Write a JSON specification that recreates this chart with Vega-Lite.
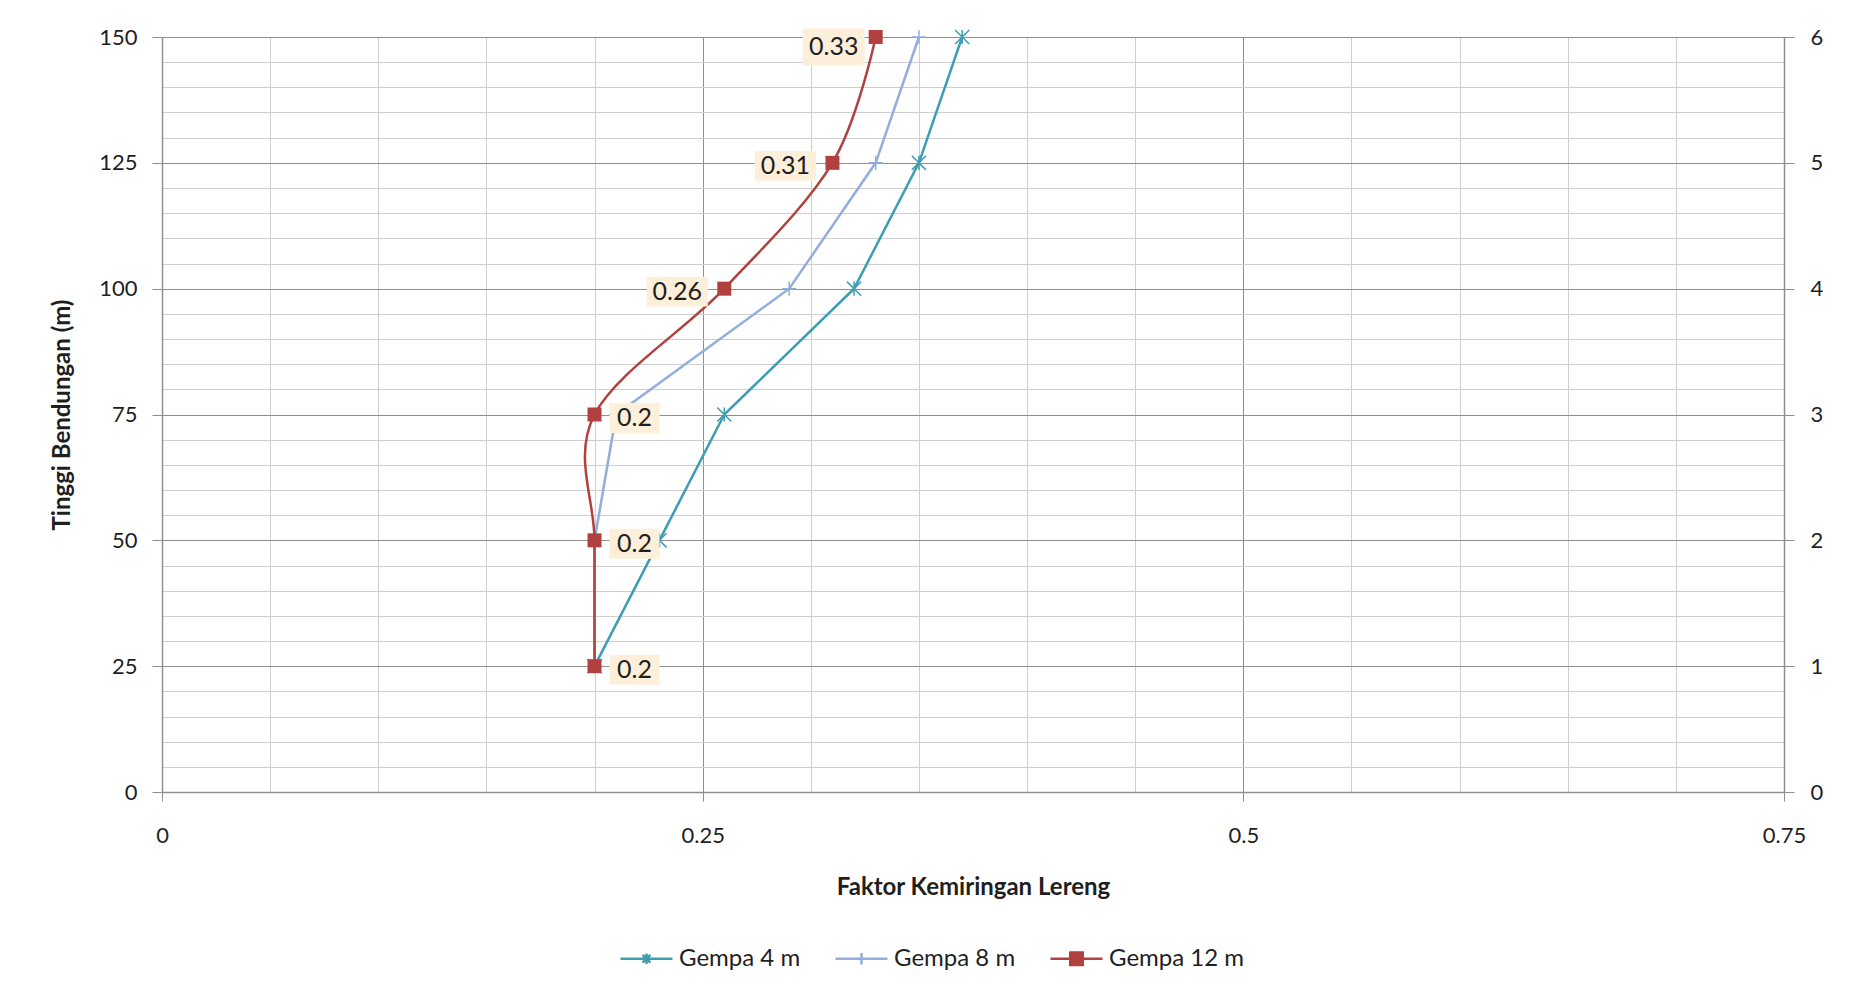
{
  "$schema": "https://vega.github.io/schema/vega-lite/v6.json",
  "width": 1622,
  "height": 755,
  "autosize": {"type": "none"},
  "padding": {"left": 162, "top": 37, "right": 67, "bottom": 205},
  "background": "white",
  "datasets": {
    "series": [
      {"s": "Gempa 4 m", "h": 25, "x": 0.2},
      {"s": "Gempa 4 m", "h": 50, "x": 0.23},
      {"s": "Gempa 4 m", "h": 75, "x": 0.26},
      {"s": "Gempa 4 m", "h": 100, "x": 0.32},
      {"s": "Gempa 4 m", "h": 125, "x": 0.35},
      {"s": "Gempa 4 m", "h": 150, "x": 0.37},
      {"s": "Gempa 8 m", "h": 25, "x": 0.2},
      {"s": "Gempa 8 m", "h": 50, "x": 0.2},
      {"s": "Gempa 8 m", "h": 75, "x": 0.21},
      {"s": "Gempa 8 m", "h": 100, "x": 0.29},
      {"s": "Gempa 8 m", "h": 125, "x": 0.33},
      {"s": "Gempa 8 m", "h": 150, "x": 0.35},
      {"s": "Gempa 12 m", "h": 25, "x": 0.2},
      {"s": "Gempa 12 m", "h": 50, "x": 0.2},
      {"s": "Gempa 12 m", "h": 75, "x": 0.2},
      {"s": "Gempa 12 m", "h": 100, "x": 0.26},
      {"s": "Gempa 12 m", "h": 125, "x": 0.31},
      {"s": "Gempa 12 m", "h": 150, "x": 0.33}
    ],
    "secondary": [{"r": 0}, {"r": 6}]
  },
  "config": {
    "view": {"stroke": null},
    "font": "Lato",
    "axis": {
      "labelFont": "Lato",
      "labelFontSize": 22,
      "labelColor": "#1f1f1f",
      "titleFont": "Lato",
      "titleFontSize": 24,
      "titleFontWeight": "bold",
      "titleColor": "#1f1f1f"
    },
    "legend": {
      "labelFont": "Lato",
      "labelFontSize": 24,
      "labelColor": "#1f1f1f"
    }
  },
  "resolve": {
    "scale": {"y": "independent"},
    "axis": {"x": "independent", "y": "independent"}
  },
  "layer": [
    {
      "data": {"name": "series"},
      "mark": {"type": "point", "opacity": 0},
      "encoding": {
        "x": {
          "field": "x", "type": "quantitative",
          "scale": {"domain": [0, 0.75], "nice": false, "zero": false},
          "axis": {
            "orient": "bottom",
            "values": [0.05, 0.1, 0.15, 0.2, 0.3, 0.35, 0.4, 0.45, 0.55, 0.6, 0.65, 0.7],
            "grid": true, "gridColor": "#CFCFCF", "gridWidth": 1,
            "labels": false, "ticks": false, "domain": false, "title": null
          }
        },
        "y": {
          "field": "h", "type": "quantitative",
          "scale": {"domain": [0, 150], "nice": false, "zero": false},
          "axis": {
            "orient": "left",
            "values": [5, 10, 15, 20, 30, 35, 40, 45, 55, 60, 65, 70, 80, 85, 90, 95, 105, 110, 115, 120, 130, 135, 140, 145],
            "grid": true, "gridColor": "#CFCFCF", "gridWidth": 1,
            "labels": false, "ticks": false, "domain": false, "title": null
          }
        }
      }
    },
    {
      "data": {"name": "series"},
      "mark": {"type": "point", "opacity": 0},
      "encoding": {
        "x": {
          "field": "x", "type": "quantitative",
          "scale": {"domain": [0, 0.75], "nice": false, "zero": false},
          "axis": {
            "orient": "bottom",
            "values": [0, 0.25, 0.5, 0.75],
            "format": ".2~f",
            "labelFlush": false,
            "grid": true, "gridColor": "#8F8F8F", "gridWidth": 1,
            "domain": true, "domainColor": "#8F8F8F", "domainWidth": 1.5,
            "ticks": true, "tickColor": "#8F8F8F", "tickSize": 9,
            "labelPadding": 24,
            "title": "Faktor Kemiringan Lereng",
            "titlePadding": 29
          }
        },
        "y": {
          "field": "h", "type": "quantitative",
          "scale": {"domain": [0, 150], "nice": false, "zero": false},
          "axis": {
            "orient": "left",
            "values": [0, 25, 50, 75, 100, 125, 150],
            "labelFlush": false,
            "grid": true, "gridColor": "#8F8F8F", "gridWidth": 1,
            "domain": true, "domainColor": "#8F8F8F", "domainWidth": 1.5,
            "ticks": true, "tickColor": "#8F8F8F", "tickSize": 10,
            "labelPadding": 15,
            "title": "Tinggi Bendungan (m)",
            "titlePadding": 24
          }
        }
      }
    },
    {
      "data": {"name": "series"},
      "transform": [{"filter": "datum.s !== 'Gempa 12 m'"}],
      "mark": {"type": "line", "strokeWidth": 2.5},
      "encoding": {
        "x": {"field": "x", "type": "quantitative", "scale": {"domain": [0, 0.75], "nice": false, "zero": false}, "axis": null},
        "y": {"field": "h", "type": "quantitative", "scale": {"domain": [0, 150], "nice": false, "zero": false}, "axis": null},
        "order": {"field": "h"},
        "color": {
          "field": "s", "type": "nominal",
          "scale": {"domain": ["Gempa 4 m", "Gempa 8 m", "Gempa 12 m"], "range": ["#3D9DB3", "#93AEDC", "#B0413E"]},
          "legend": {
            "title": null,
            "orient": "none",
            "legendX": 457,
            "legendY": 894,
            "direction": "horizontal",
            "symbolSize": 2704,
            "symbolStrokeWidth": 2.5,
            "labelOffset": 5,
            "columnPadding": 29,
            "encode": {
              "symbols": {
                "update": {
                  "shape": {"signal": "datum.value === 'Gempa 4 m' ? 'M-1,0H1M-0.15,-0.15L0.15,0.15M-0.15,0.15L0.15,-0.15M0,-0.2V0.2' : datum.value === 'Gempa 8 m' ? 'M-1,0H1M0,-0.22V0.22' : 'M-1,0H1M-0.24,-0.24H0.24V0.24H-0.24Z'"},
                  "fill": {"signal": "datum.value === 'Gempa 12 m' ? '#B0413E' : 'transparent'"},
                  "strokeWidth": {"value": 2.5}
                }
              }
            }
          }
        }
      }
    },
    {
      "data": {"name": "series"},
      "transform": [{"filter": "datum.s !== 'Gempa 12 m'"}],
      "mark": {"type": "point", "filled": false, "strokeWidth": 1.5, "size": 200, "opacity": 1},
      "encoding": {
        "x": {"field": "x", "type": "quantitative", "scale": {"domain": [0, 0.75], "nice": false, "zero": false}, "axis": null},
        "y": {"field": "h", "type": "quantitative", "scale": {"domain": [0, 150], "nice": false, "zero": false}, "axis": null},
        "color": {"field": "s", "type": "nominal", "legend": null},
        "shape": {
          "field": "s", "type": "nominal",
          "scale": {"domain": ["Gempa 4 m", "Gempa 8 m"], "range": ["M-1,-1L1,1M-1,1L1,-1M0,-1V1", "M-1,0H1M0,-1V1"]},
          "legend": null
        }
      }
    },
    {
      "data": {"name": "series"},
      "transform": [{"filter": "datum.s === 'Gempa 12 m'"}],
      "mark": {"type": "line", "strokeWidth": 2.5, "interpolate": "cardinal", "tension": 0},
      "encoding": {
        "x": {"field": "x", "type": "quantitative", "scale": {"domain": [0, 0.75], "nice": false, "zero": false}, "axis": null},
        "y": {"field": "h", "type": "quantitative", "scale": {"domain": [0, 150], "nice": false, "zero": false}, "axis": null},
        "order": {"field": "h"},
        "color": {"field": "s", "type": "nominal", "legend": null}
      }
    },
    {
      "data": {"name": "series"},
      "transform": [{"filter": "datum.s === 'Gempa 12 m'"}],
      "mark": {"type": "point", "shape": "square", "filled": true, "size": 196, "opacity": 1, "color": "#B0413E"},
      "encoding": {
        "x": {"field": "x", "type": "quantitative", "scale": {"domain": [0, 0.75], "nice": false, "zero": false}, "axis": null},
        "y": {"field": "h", "type": "quantitative", "scale": {"domain": [0, 150], "nice": false, "zero": false}, "axis": null}
      }
    },
    {
      "data": {"name": "series"},
      "transform": [{"filter": "datum.s === 'Gempa 12 m' && datum.h >= 100 && datum.h < 150"}],
      "mark": {"type": "point", "shape": "M-1,-0.49H1V0.49H-1Z", "filled": true, "size": 3721, "opacity": 1, "color": "#FDEFD9", "strokeWidth": 0, "xOffset": -47, "yOffset": 3},
      "encoding": {
        "x": {"field": "x", "type": "quantitative", "scale": {"domain": [0, 0.75], "nice": false, "zero": false}, "axis": null},
        "y": {"field": "h", "type": "quantitative", "scale": {"domain": [0, 150], "nice": false, "zero": false}, "axis": null}
      }
    },
    {
      "data": {"name": "series"},
      "transform": [{"filter": "datum.s === 'Gempa 12 m' && datum.h === 150"}],
      "mark": {"type": "point", "shape": "M-1,-0.6H1V0.6H-1Z", "filled": true, "size": 3844, "opacity": 1, "color": "#FDEFD9", "strokeWidth": 0, "xOffset": -42, "yOffset": 10},
      "encoding": {
        "x": {"field": "x", "type": "quantitative", "scale": {"domain": [0, 0.75], "nice": false, "zero": false}, "axis": null},
        "y": {"field": "h", "type": "quantitative", "scale": {"domain": [0, 150], "nice": false, "zero": false}, "axis": null}
      }
    },
    {
      "data": {"name": "series"},
      "transform": [{"filter": "datum.s === 'Gempa 12 m' && datum.h < 100"}],
      "mark": {"type": "point", "shape": "M-1,-0.6H1V0.6H-1Z", "filled": true, "size": 2500, "opacity": 1, "color": "#FDEFD9", "strokeWidth": 0, "xOffset": 40, "yOffset": 3.5},
      "encoding": {
        "x": {"field": "x", "type": "quantitative", "scale": {"domain": [0, 0.75], "nice": false, "zero": false}, "axis": null},
        "y": {"field": "h", "type": "quantitative", "scale": {"domain": [0, 150], "nice": false, "zero": false}, "axis": null}
      }
    },
    {
      "data": {"name": "series"},
      "transform": [{"filter": "datum.s === 'Gempa 12 m' && datum.h >= 100 && datum.h < 150"}],
      "mark": {"type": "text", "font": "Lato", "fontSize": 25, "color": "#1f1f1f", "align": "center", "baseline": "middle", "xOffset": -47, "yOffset": 3},
      "encoding": {
        "x": {"field": "x", "type": "quantitative", "scale": {"domain": [0, 0.75], "nice": false, "zero": false}, "axis": null},
        "y": {"field": "h", "type": "quantitative", "scale": {"domain": [0, 150], "nice": false, "zero": false}, "axis": null},
        "text": {"field": "x", "type": "quantitative", "format": "~g"}
      }
    },
    {
      "data": {"name": "series"},
      "transform": [{"filter": "datum.s === 'Gempa 12 m' && datum.h === 150"}],
      "mark": {"type": "text", "font": "Lato", "fontSize": 25, "color": "#1f1f1f", "align": "center", "baseline": "middle", "xOffset": -42, "yOffset": 10},
      "encoding": {
        "x": {"field": "x", "type": "quantitative", "scale": {"domain": [0, 0.75], "nice": false, "zero": false}, "axis": null},
        "y": {"field": "h", "type": "quantitative", "scale": {"domain": [0, 150], "nice": false, "zero": false}, "axis": null},
        "text": {"field": "x", "type": "quantitative", "format": "~g"}
      }
    },
    {
      "data": {"name": "series"},
      "transform": [{"filter": "datum.s === 'Gempa 12 m' && datum.h < 100"}],
      "mark": {"type": "text", "font": "Lato", "fontSize": 25, "color": "#1f1f1f", "align": "center", "baseline": "middle", "xOffset": 40, "yOffset": 3.5},
      "encoding": {
        "x": {"field": "x", "type": "quantitative", "scale": {"domain": [0, 0.75], "nice": false, "zero": false}, "axis": null},
        "y": {"field": "h", "type": "quantitative", "scale": {"domain": [0, 150], "nice": false, "zero": false}, "axis": null},
        "text": {"field": "x", "type": "quantitative", "format": "~g"}
      }
    },
    {
      "data": {"name": "secondary"},
      "mark": {"type": "point", "opacity": 0},
      "encoding": {
        "y": {
          "field": "r", "type": "quantitative",
          "scale": {"domain": [0, 6], "nice": false, "zero": false},
          "axis": {
            "orient": "right",
            "values": [0, 1, 2, 3, 4, 5, 6],
            "labelFlush": false,
            "grid": false,
            "domain": true, "domainColor": "#8F8F8F", "domainWidth": 1.5,
            "ticks": true, "tickColor": "#8F8F8F", "tickSize": 10,
            "labelPadding": 16,
            "title": null
          }
        }
      }
    }
  ]
}
